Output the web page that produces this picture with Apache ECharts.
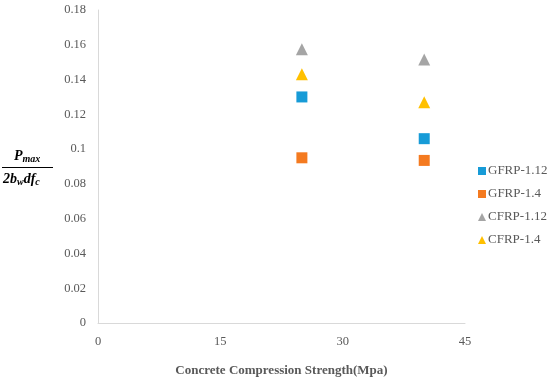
<!DOCTYPE html>
<html><head><meta charset="utf-8">
<script src="https://cdn.jsdelivr.net/npm/echarts@6/dist/echarts.min.js"></script>
<style>html,body{margin:0;padding:0;background:#fff}#c{width:550px;height:383px}</style>
</head><body><div id="c"></div>
<script>
const strengths = [25, 40];
const gfrp112 = [0.130, 0.106];
const gfrp14 = [0.095, 0.0935];
const cfrp112 = [0.1575, 0.1515];
const cfrp14 = [0.143, 0.127];
const seriesNames = ['GFRP-1.12', 'GFRP-1.4', 'CFRP-1.12', 'CFRP-1.4'];
const colors = ['#179BD7', '#F47A20', '#A5A5A5', '#FFC000'];
const symbols = ['rect', 'rect', 'triangle', 'triangle'];
const values = [gfrp112, gfrp14, cfrp112, cfrp14];
const FONT = "'Liberation Serif', serif";

const chart = echarts.init(document.getElementById('c'), null, {renderer: 'canvas'});
const richF = {
  p: {fontFamily: FONT, fontSize: 14, fontWeight: 'bold', fontStyle: 'italic', fill: '#000'},
  s: {fontFamily: FONT, fontSize: 10, fontWeight: 'bold', fontStyle: 'italic', fill: '#000', verticalAlign: 'bottom', padding: [6,0,0,0]}
};
chart.setOption({
  animation: false,
  textStyle: {fontFamily: FONT},
  grid: {left: 98, right: 85, top: 10, bottom: 60},
  xAxis: {
    type: 'value', min: 0, max: 45, interval: 15,
    name: 'Concrete Compression Strength(Mpa)', nameLocation: 'middle', nameGap: 41,
    nameTextStyle: {fontFamily: FONT, fontSize: 13, fontWeight: 'bold', color: '#595959'},
    axisLine: {lineStyle: {color: '#D9D9D9'}},
    axisTick: {show: false},
    splitLine: {show: false},
    axisLabel: {color: '#595959', fontSize: 12.5, margin: 12, fontFamily: FONT}
  },
  yAxis: {
    type: 'value', min: 0, max: 0.18, interval: 0.02,
    axisLine: {show: true, lineStyle: {color: '#D9D9D9'}},
    axisTick: {show: false},
    splitLine: {show: false},
    axisLabel: {color: '#595959', fontSize: 12.5, margin: 12, fontFamily: FONT,
      formatter: v => String(Math.round(v * 100) / 100)}
  },
  legend: {
    orient: 'vertical', left: 473, top: 159, itemGap: 9,
    itemWidth: 8, itemHeight: 8,
    textStyle: {color: '#595959', fontSize: 13, fontFamily: FONT, padding: [0,0,0,-3], height: 14, lineHeight: 14},
    data: seriesNames.map((n, i) => ({name: n, icon: symbols[i]}))
  },
  series: seriesNames.map((n, i) => ({
    name: n, type: 'scatter',
    symbol: symbols[i],
    symbolSize: symbols[i] === 'rect' ? 11 : 12,
    itemStyle: {color: colors[i], opacity: 1},
    data: strengths.map((s, j) => [s, values[i][j]])
  })),
  graphic: [
    {type: 'text', left: 14, top: 149, style: {text: '{p|P}{s|max}', rich: richF}},
    {type: 'line', shape: {x1: 2, y1: 167.5, x2: 53, y2: 167.5}, style: {stroke: '#000', lineWidth: 1}},
    {type: 'text', left: 3, top: 172, style: {text: '{p|2b}{s|w}{p|df}{s|c}', rich: richF}}
  ]
});
</script></body></html>
